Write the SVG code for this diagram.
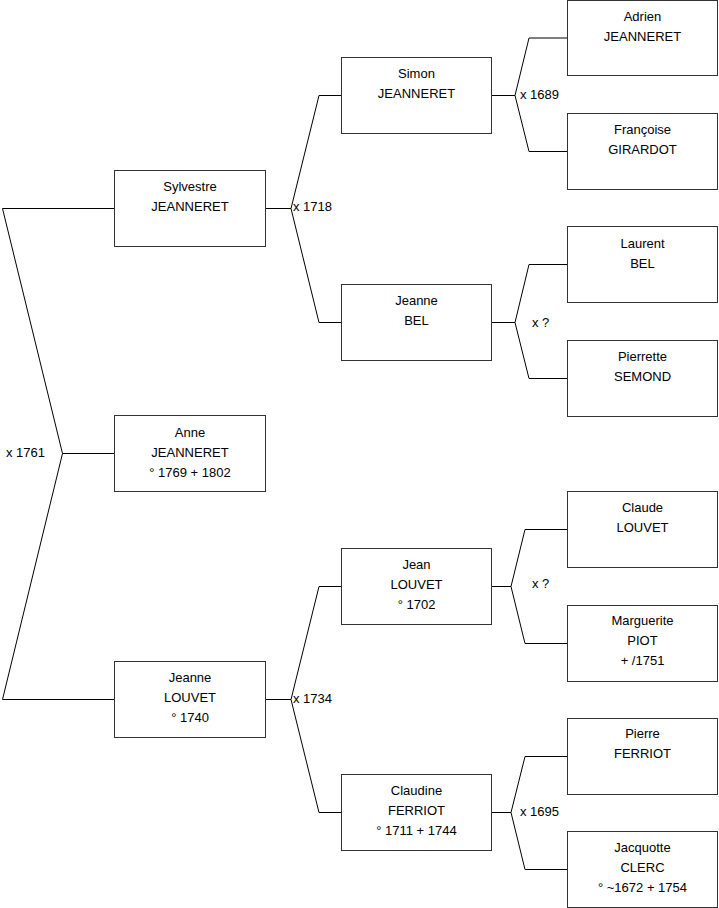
<svg xmlns="http://www.w3.org/2000/svg" width="719" height="908" viewBox="0 0 719 908">
<style>
rect.b{fill:#fff;stroke:#333;stroke-width:1}
text{font-family:"Liberation Sans",Arial,sans-serif;font-size:13px;fill:#000}
.c{text-anchor:middle}
path.l{fill:none;stroke:#000;stroke-width:1}
</style>
<rect x="0" y="0" width="719" height="908" fill="#fff"/>
<g id="connectors">
<path class="l" d="M2.5,208.5 H114.5 M2.5,208.5 L62.5,453.5 L2.5,699.5 H114.5 M62.5,453.5 H114.5"/>
<path class="l" d="M265.5,208.5 H291 L319,95.5 H341.5 M291,208.5 L319,322.5 H341.5"/>
<path class="l" d="M265.5,699.5 H291 L319,586.5 H341.5 M291,699.5 L319,812.5 H341.5"/>
<path class="l" d="M491.5,95.5 H515 L529,38 H567.5 M515,95.5 L529,151.5 H567.5"/>
<path class="l" d="M491.5,322.5 H515 L529,264.5 H567.5 M515,322.5 L529,378.5 H567.5"/>
<path class="l" d="M491.5,586.5 H511 L525,529.5 H567.5 M511,586.5 L525,643.5 H567.5"/>
<path class="l" d="M491.5,812.5 H511 L525,756.5 H567.5 M511,812.5 L525,869.5 H567.5"/>
<text x="6" y="457">x 1761</text>
<text x="293" y="211">x 1718</text>
<text x="293" y="703">x 1734</text>
<text x="520" y="99">x 1689</text>
<text x="532" y="327">x ?</text>
<text x="532" y="588">x ?</text>
<text x="520" y="816">x 1695</text>
</g>
<g id="sylvestre"><rect class="b" x="114.5" y="170.5" width="151" height="76"/><text class="c" x="190" y="191">Sylvestre</text><text class="c" x="190" y="211">JEANNERET</text></g>
<g id="anne"><rect class="b" x="114.5" y="415.5" width="151" height="76"/><text class="c" x="190" y="437">Anne</text><text class="c" x="190" y="457">JEANNERET</text><text class="c" x="190" y="477">° 1769 + 1802</text></g>
<g id="jeanne-louvet"><rect class="b" x="114.5" y="661.5" width="151" height="76"/><text class="c" x="190" y="682">Jeanne</text><text class="c" x="190" y="702">LOUVET</text><text class="c" x="190" y="722">° 1740</text></g>
<g id="simon"><rect class="b" x="341.5" y="57.5" width="150" height="76"/><text class="c" x="416.5" y="78">Simon</text><text class="c" x="416.5" y="98">JEANNERET</text></g>
<g id="jeanne-bel"><rect class="b" x="341.5" y="284.5" width="150" height="76"/><text class="c" x="416.5" y="305">Jeanne</text><text class="c" x="416.5" y="325">BEL</text></g>
<g id="jean-louvet"><rect class="b" x="341.5" y="548.5" width="150" height="76"/><text class="c" x="416.5" y="569">Jean</text><text class="c" x="416.5" y="589">LOUVET</text><text class="c" x="416.5" y="609">° 1702</text></g>
<g id="claudine"><rect class="b" x="341.5" y="774.5" width="150" height="76"/><text class="c" x="416.5" y="795">Claudine</text><text class="c" x="416.5" y="815">FERRIOT</text><text class="c" x="416.5" y="835">° 1711 + 1744</text></g>
<g id="adrien"><rect class="b" x="567.5" y="0.5" width="150" height="75"/><text class="c" x="642.5" y="21">Adrien</text><text class="c" x="642.5" y="41">JEANNERET</text></g>
<g id="francoise"><rect class="b" x="567.5" y="113.5" width="150" height="76"/><text class="c" x="642.5" y="134">Françoise</text><text class="c" x="642.5" y="154">GIRARDOT</text></g>
<g id="laurent"><rect class="b" x="567.5" y="226.5" width="150" height="76"/><text class="c" x="642.5" y="248">Laurent</text><text class="c" x="642.5" y="268">BEL</text></g>
<g id="pierrette"><rect class="b" x="567.5" y="340.5" width="150" height="76"/><text class="c" x="642.5" y="361">Pierrette</text><text class="c" x="642.5" y="381">SEMOND</text></g>
<g id="claude"><rect class="b" x="567.5" y="491.5" width="150" height="76"/><text class="c" x="642.5" y="512">Claude</text><text class="c" x="642.5" y="532">LOUVET</text></g>
<g id="marguerite"><rect class="b" x="567.5" y="605.5" width="150" height="76"/><text class="c" x="642.5" y="625">Marguerite</text><text class="c" x="642.5" y="645">PIOT</text><text class="c" x="642.5" y="665">+ /1751</text></g>
<g id="pierre"><rect class="b" x="567.5" y="718.5" width="150" height="76"/><text class="c" x="642.5" y="738">Pierre</text><text class="c" x="642.5" y="758">FERRIOT</text></g>
<g id="jacquotte"><rect class="b" x="567.5" y="831.5" width="150" height="76"/><text class="c" x="642.5" y="852">Jacquotte</text><text class="c" x="642.5" y="872">CLERC</text><text class="c" x="642.5" y="892">° ~1672 + 1754</text></g>
</svg>
